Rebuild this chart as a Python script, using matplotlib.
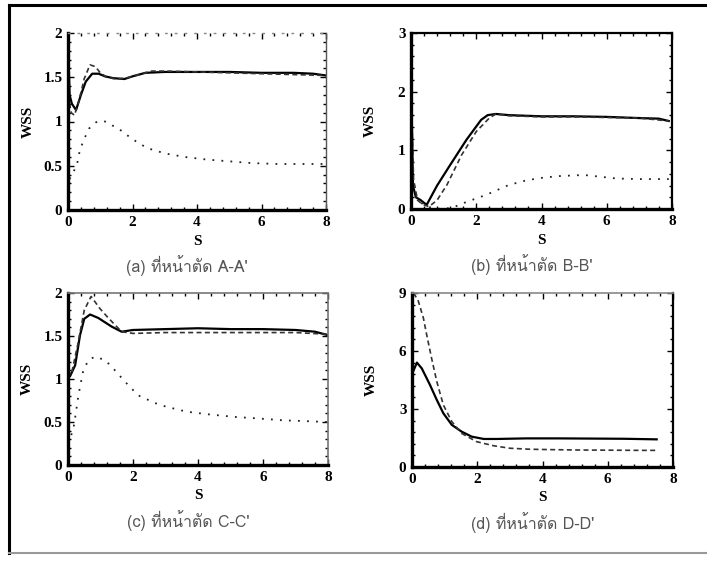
"""
WSS along S at four cross sections (A-A' .. D-D'), 2x2 panel figure.
"""

import matplotlib
matplotlib.use("Agg")
import matplotlib.pyplot as plt
from matplotlib import font_manager
from matplotlib.ft2font import FT2Font
from matplotlib.lines import Line2D
from matplotlib.ticker import AutoMinorLocator

# ---------------------------------------------------------------- data
# panel (a) section A-A'
xa_solid = [0, 0.05, 0.12, 0.25, 0.4, 0.55, 0.75, 0.95, 1.15, 1.4, 1.75, 2.0, 2.4, 3, 4, 5, 6, 7, 7.6, 8]
ya_solid = [1.9, 1.3, 1.2, 1.13, 1.3, 1.45, 1.54, 1.54, 1.51, 1.49, 1.48, 1.51, 1.55, 1.56, 1.56, 1.56, 1.55, 1.55, 1.54, 1.52]
xa_dash = [0, 0.1, 0.2, 0.35, 0.5, 0.68, 0.85, 1.0, 1.2, 1.5, 1.8, 2.2, 2.6, 3, 4, 5, 6, 7, 8]
ya_dash = [1.3, 1.1, 1.07, 1.25, 1.48, 1.64, 1.62, 1.55, 1.5, 1.48, 1.49, 1.53, 1.57, 1.57, 1.56, 1.55, 1.54, 1.53, 1.52]
xa_low = [0.05, 0.15, 0.27, 0.37, 0.5, 0.65, 0.9, 1.15, 1.6, 2.0, 2.45, 3.0, 3.6, 4.3, 5.0, 5.7, 6.5, 7.3, 8]
ya_low = [0.35, 0.42, 0.5, 0.68, 0.8, 0.92, 1.0, 1.0, 0.91, 0.8, 0.7, 0.64, 0.6, 0.57, 0.55, 0.53, 0.52, 0.52, 0.52]

# panel (b) section B-B'
xb_solid = [0, 0.06, 0.15, 0.3, 0.48, 0.8, 1.2, 1.7, 2.15, 2.35, 2.6, 3.0, 4, 5, 6, 7, 7.6, 7.9]
yb_solid = [2.3, 0.4, 0.2, 0.15, 0.07, 0.4, 0.75, 1.18, 1.52, 1.6, 1.62, 1.6, 1.58, 1.58, 1.57, 1.55, 1.54, 1.5]
xb_dash = [0, 0.08, 0.2, 0.35, 0.55, 0.8, 1.1, 1.55, 2.0, 2.4, 2.6, 3.0, 4, 5, 6, 7, 7.9]
yb_dash = [2.0, 0.5, 0.15, 0.08, 0.04, 0.15, 0.41, 0.92, 1.32, 1.55, 1.62, 1.59, 1.57, 1.57, 1.56, 1.55, 1.5]
xb_low = [0, 0.2, 0.45, 0.7, 1.0, 1.3, 1.7, 2.3, 3.0, 3.55, 4.0, 4.5, 5.3, 5.8, 6.3, 7.0, 7.9]
yb_low = [0.35, 0.15, 0.05, 0.01, 0.0, 0.03, 0.12, 0.24, 0.41, 0.49, 0.53, 0.56, 0.58, 0.55, 0.52, 0.51, 0.51]

# panel (c) section C-C'
xc_solid = [0, 0.06, 0.22, 0.37, 0.5, 0.68, 0.93, 1.34, 1.65, 2.0, 3, 4, 5, 6, 7, 7.6, 8]
yc_solid = [1.1, 1.03, 1.16, 1.51, 1.7, 1.75, 1.71, 1.61, 1.55, 1.57, 1.58, 1.59, 1.58, 1.58, 1.57, 1.55, 1.51]
xc_dash = [0, 0.1, 0.3, 0.5, 0.71, 0.98, 1.24, 1.65, 2.0, 3, 4, 5, 6, 7, 8]
yc_dash = [1.1, 1.05, 1.4, 1.8, 1.96, 1.82, 1.71, 1.55, 1.53, 1.54, 1.54, 1.54, 1.54, 1.54, 1.52]
xc_low = [0, 0.16, 0.24, 0.32, 0.47, 0.63, 0.83, 1.14, 1.4, 1.75, 2.16, 2.68, 3.0, 3.65, 4.3, 5.1, 5.9, 6.6, 7.3, 8]
yc_low = [0.25, 0.41, 0.6, 0.81, 1.1, 1.22, 1.26, 1.22, 1.12, 0.97, 0.81, 0.72, 0.68, 0.62, 0.59, 0.56, 0.54, 0.52, 0.51, 0.5]

# panel (d) section D-D' (two curves only)
xd_solid = [0.05, 0.15, 0.3, 0.55, 0.76, 0.96, 1.22, 1.52, 1.83, 2.2, 2.6, 3.5, 4.5, 5.5, 6.5, 7.5]
yd_solid = [5.0, 5.4, 5.1, 4.25, 3.47, 2.78, 2.18, 1.83, 1.57, 1.45, 1.45, 1.48, 1.48, 1.47, 1.46, 1.43]
xd_dash = [0.05, 0.19, 0.35, 0.45, 0.6, 0.76, 0.96, 1.22, 1.52, 1.98, 2.5, 3.0, 3.6, 4.2, 5, 6, 7, 7.5]
yd_dash = [9.0, 8.6, 7.7, 6.84, 5.63, 4.42, 3.21, 2.35, 1.74, 1.31, 1.1, 0.97, 0.92, 0.9, 0.88, 0.87, 0.86, 0.86]

x_ticks = [0, 2, 4, 6, 8]
y_ticks_a = [0, 0.5, 1, 1.5, 2]
y_ticks_b = [0, 1, 2, 3]
y_ticks_c = [0, 0.5, 1, 1.5, 2]
y_ticks_d = [0, 3, 6, 9]

captions = ["(a) ที่หน้าตัด A-A'", "(b) ที่หน้าตัด B-B'",
            "(c) ที่หน้าตัด C-C'", "(d) ที่หน้าตัด D-D'"]


# ---------------------------------------------------------------- fonts
def find_thai_font():
    # first installed family that actually has Thai glyphs
    for path in sorted(font_manager.findSystemFonts()):
        try:
            cmap = FT2Font(path).get_charmap()
        except Exception:
            continue
        if 0x0E17 in cmap and 0x0E2B in cmap:
            return font_manager.FontProperties(fname=path).get_name()
    return "DejaVu Sans"


THAI_FONT = find_thai_font()
NUM_FONT = "Liberation Serif"


# ---------------------------------------------------------------- chart
fig = plt.figure(figsize=(7.07, 5.64), dpi=100)

W, H = 707.0, 564.0
# axes boxes in pixels: left, top, right, bottom
boxes = [(68, 33, 326, 210), (411, 33, 672, 209),
         (68, 293, 328, 465), (412, 293, 673, 467)]

panels = [
    ([(xa_solid, ya_solid), (xa_dash, ya_dash), (xa_low, ya_low)], y_ticks_a),
    ([(xb_solid, yb_solid), (xb_dash, yb_dash), (xb_low, yb_low)], y_ticks_b),
    ([(xc_solid, yc_solid), (xc_dash, yc_dash), (xc_low, yc_low)], y_ticks_c),
    ([(xd_solid, yd_solid), (xd_dash, yd_dash)], y_ticks_d),
]

styles = [
    dict(color="black", lw=1.6, ls="-"),
    dict(color="#333333", lw=1.2, ls=(0, (3, 2))),
    dict(color="#222222", lw=1.3, ls=(0, (1, 4))),
]

top_styles = [
    dict(ls=(0, (1, 6)), color="#888888", lw=1.0),
    dict(ls=(0, (4, 1)), color="black", lw=1.6),
    dict(ls=(0, (3, 1)), color="#777777", lw=1.2),
    dict(ls=(0, (3, 1)), color="#888888", lw=1.2),
]
right_styles = [
    dict(color="#555555", lw=1.0),
    dict(color="black", lw=1.6),
    dict(color="#777777", lw=1.2),
    dict(color="black", lw=1.6),
]

for i, ((series, yticks), (l, t, r, b)) in enumerate(zip(panels, boxes)):
    ax = fig.add_axes([l / W, 1 - b / H, (r - l) / W, (b - t) / H])

    for (xs, ys), st in zip(series, styles):
        ax.plot(xs, ys, **st)

    ax.set_xlim(0, 8)
    ax.set_ylim(yticks[0], yticks[-1])
    ax.set_xticks(x_ticks)
    ax.set_yticks(yticks)
    ax.set_xticklabels([f"{v:g}" for v in x_ticks])
    ax.set_yticklabels([f"{v:g}" for v in yticks])
    ax.xaxis.set_minor_locator(AutoMinorLocator(5))
    ax.yaxis.set_minor_locator(AutoMinorLocator(5))
    ax.tick_params(which="both", direction="in", top=True, right=True, width=1.0)
    ax.tick_params(which="major", length=4, pad=4)
    ax.tick_params(which="minor", length=2.5)
    for lab in ax.get_xticklabels() + ax.get_yticklabels():
        lab.set_fontfamily(NUM_FONT)
        lab.set_fontweight("bold")
        lab.set_fontsize(11)

    for side in ("left", "bottom"):
        ax.spines[side].set_linewidth(2.4)
        ax.spines[side].set_color("black")
    ax.spines["top"].set_linestyle(top_styles[i]["ls"])
    ax.spines["top"].set_color(top_styles[i]["color"])
    ax.spines["top"].set_linewidth(top_styles[i]["lw"])
    ax.spines["right"].set_color(right_styles[i]["color"])
    ax.spines["right"].set_linewidth(right_styles[i]["lw"])

    ax.set_xlabel("S", fontfamily=NUM_FONT, fontweight="bold", fontsize=11)
    ax.set_ylabel("WSS", fontfamily=NUM_FONT, fontweight="bold", fontsize=11)
    ax.xaxis.set_label_coords(0.5, -0.14)
    ax.yaxis.set_label_coords(-0.13, 0.5)

    # caption under each panel
    cx = (l + r) / 2 - 10
    cy = b + 56
    fig.text(cx / W, 1 - cy / H, captions[i], ha="center", va="center",
             fontsize=11.5, color="#555555", family=[THAI_FONT, "DejaVu Sans"])

# scanned page frame: left, top and bottom rules
fig.add_artist(Line2D([9 / W, 9 / W], [1 - 5 / H, 1 - 553 / H], color="black", lw=2.2))
fig.add_artist(Line2D([9 / W, 1.0], [1 - 5 / H, 1 - 5 / H], color="black", lw=2.2))
fig.add_artist(Line2D([9 / W, 1.0], [1 - 553 / H, 1 - 553 / H], color="#999999", lw=1.5))

fig.savefig("out.png", dpi=100)
